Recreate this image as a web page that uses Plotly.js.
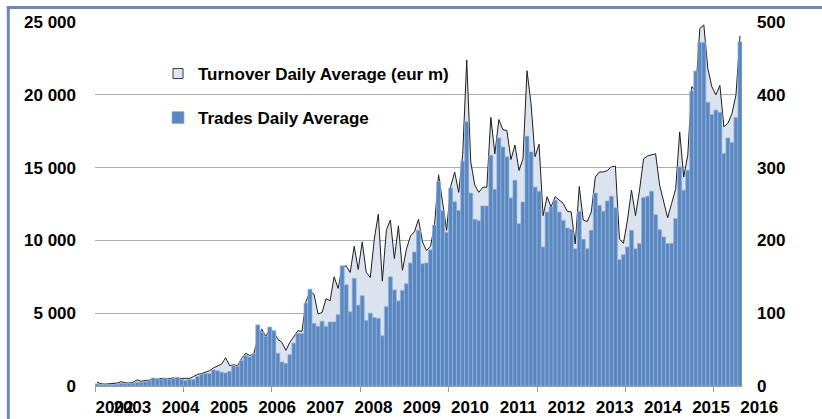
<!DOCTYPE html>
<html>
<head>
<meta charset="utf-8">
<script src="https://cdn.plot.ly/plotly-3.0.1.min.js"></script>
<style>
  html, body { margin: 0; padding: 0; background: #ffffff; }
  #chart { width: 822px; height: 419px; }
</style>
</head>
<body>
<div id="chart"></div>
<script>
// ---- Data ----
// Trades Daily Average (number of trades), one value per month
const trades = [
  150,100,100,120,100,130,180,150,170,200,
  260,250,300,350,550,500,450,550,450,500,
  600,450,400,450,450,650,
  800,850,850,1100,1050,950,900,1000,1400,1350,
  1750,2100,2000,2200,4200,3700,3400,4050,3800,2250,
  1650,1550,2150,2950,3600,
  3600,5700,6650,4300,4100,4450,4100,4400,4400,4900,
  8250,6950,5100,7400,5550,6200,4500,5000,4700,4650,
  3450,5450,7500,6600,5850,
  6570,7030,8450,9200,10700,8400,8450,9350,11050,14050,
  12050,10550,13600,12650,12050,15450,18150,13250,11450,11350,
  12370,12370,15850,13510,17040,16420,15740,12920,14130,11150,
  12640,17160,16080,13670,13380,9550,11950,12300,12760,11950,
  11380,10850,10760,9430,12000,10080,9430,10690,13260,12410,
  12000,12710,13030,12250,8680,9020,9550,10690,9430,9780,
  12940,13030,13380,11770,10740,10240,9780,9800,11500,15050,
  13450,14820,20250,21630,23600,23600,19480,18650,18950,18800,
  15970,17040,16720,18440,23640
];
// Turnover Daily Average (eur m), one value per month
const turnover = [
  5.6,3.0,2.6,3.0,3.4,4.0,6.0,4.4,4.0,5.2,
  8.4,6.4,7.6,8.0,10.0,9.0,10.4,9.6,10.0,11.2,
  9.0,10.4,10.6,10.4,13,16,
  17,19,21,25,28,30,39,28,29,28,
  38,45,42,44,66,78,68,78,74,64,
  60,49,60,68,76,
  75,116,130,126,99,101,120,117,150,134,
  164,165,156,192,160,198,156,149,202,236,
  144,214,228,175,220,
  159,188,206,212,229,198,186,192,222,290,
  252,214,274,294,266,318,448,308,276,266,
  273,273,369,319,366,352,351,311,331,296,
  312,433,388,315,332,234,260,246,260,255,
  251,240,239,195,274,228,226,239,287,294,
  294,296,301,302,202,196,228,269,234,269,
  312,316,317,319,276,253,231,251,271,349,
  287,317,411,406,491,496,436,411,400,413,
  356,361,374,400,481
];
const yearLabels = ['2002','2003','2004','2005','2006','2007','2008','2009',
                    '2010','2011','2012','2013','2014','2015','2016'];
const leftTicks  = [0, 5000, 10000, 15000, 20000, 25000];
const rightTicks = [0, 100, 200, 300, 400, 500];

// ---- Layout geometry ----
const W = 822, H = 419;
const ML = 95, MR = 80, MT = 22, MB = 33;
const plotW = W - ML - MR, plotH = H - MT - MB;
const n = trades.length;
const months = trades.map((_, i) => i);
const unit = plotW / n;               // px per month
const LABEL_SHIFT = 18;               // px shift of year labels
// year labels sit 12 months apart; the first two overlap as in the original
const labelPos = yearLabels.map((y, k) => k === 0 ? 4.35 : 8.8 + 12 * (k - 1));
const labelVals = labelPos.map(p => p - LABEL_SHIFT / unit);
const majorTicks = [];
for (let v = -0.5; v < n; v += 22) majorTicks.push(v);

const FONT = 'Liberation Sans, Arial, Helvetica, sans-serif';
const FS = 17;
const tickFont = { family: FONT, size: FS, color: '#000000', weight: 'bold' };

const px2x = px => (px - ML) / plotW;
const px2y = py => (H - MB - py) / plotH;

const areaTrace = {
  type: 'scatter', mode: 'lines', x: months, y: turnover,
  xaxis: 'x', yaxis: 'y',
  fill: 'tozeroy', fillcolor: '#dbe4ee',
  line: { color: '#1e1e1e', width: 1 },
  showlegend: false, hoverinfo: 'skip'
};
const turnoverLegend = {
  type: 'scatter', mode: 'markers', x: [null], y: [null],
  xaxis: 'x', yaxis: 'y',
  name: 'Turnover Daily Average (eur m)',
  marker: { symbol: 'square', size: 10, color: '#dde6ef', line: { color: '#3a3a3a', width: 1 } },
  legend: 'legend', showlegend: true
};
const barTrace = {
  type: 'bar', x: months, y: trades,
  xaxis: 'x2', yaxis: 'y2',
  name: 'Trades Daily Average',
  marker: { color: '#5b87c1', line: { color: '#94b3db', width: 0.7 } },
  legend: 'legend2', showlegend: true, hoverinfo: 'skip'
};

const legendFont = { family: FONT, size: FS, color: '#000000', weight: 'bold' };

const layout = {
  width: W, height: H,
  margin: { l: ML, r: MR, t: MT, b: MB, pad: 0 },
  paper_bgcolor: '#ffffff', plot_bgcolor: 'rgba(0,0,0,0)',
  separators: '. ',
  barmode: 'overlay', bargap: 0,
  font: { family: FONT, size: FS, color: '#000000' },
  xaxis: {
    range: [-0.5, n - 0.5], tickmode: 'array', tickvals: majorTicks,
    showticklabels: false, ticks: 'outside', ticklen: 5, tickwidth: 1, tickcolor: '#9a9a9a',
    showline: true, linecolor: '#9a9a9a', linewidth: 1,
    showgrid: false, zeroline: false, fixedrange: true
  },
  xaxis2: {
    overlaying: 'x', anchor: 'y', side: 'bottom',
    range: [-0.5, n - 0.5], tickmode: 'array', tickvals: labelVals, ticktext: yearLabels,
    ticklabelshift: LABEL_SHIFT, ticklabelstandoff: 9, tickangle: 0,
    ticks: '', showline: false, showgrid: false, zeroline: false,
    tickfont: tickFont, fixedrange: true
  },
  yaxis: {
    side: 'right', anchor: 'x', range: [0, 500],
    tickmode: 'array', tickvals: rightTicks,
    showgrid: true, gridcolor: '#ababab', gridwidth: 1,
    zeroline: false, showline: false, ticks: '',
    ticklabelstandoff: 14, tickfont: tickFont, fixedrange: true
  },
  yaxis2: {
    side: 'left', overlaying: 'y', anchor: 'x2', range: [0, 25000],
    tickmode: 'array', tickvals: leftTicks, tickformat: ',d',
    showgrid: false, zeroline: false, showline: false, ticks: '',
    ticklabelstandoff: 18, tickfont: tickFont, fixedrange: true
  },
  legend: {
    x: px2x(158), y: px2y(74), xanchor: 'left', yanchor: 'middle',
    bgcolor: 'rgba(0,0,0,0)', borderwidth: 0, font: legendFont
  },
  legend2: {
    x: px2x(158), y: px2y(118), xanchor: 'left', yanchor: 'middle',
    bgcolor: 'rgba(0,0,0,0)', borderwidth: 0, font: legendFont
  },
  shapes: [
    { type: 'line', xref: 'paper', yref: 'paper',
      x0: px2x(6.8), x1: px2x(W + 10), y0: px2y(7.5), y1: px2y(7.5),
      line: { color: '#6b8bb4', width: 3 } },
    { type: 'line', xref: 'paper', yref: 'paper',
      x0: px2x(8.3), x1: px2x(8.3), y0: px2y(6), y1: px2y(H + 10),
      line: { color: '#6b8bb4', width: 3 } }
  ]
};

Plotly.newPlot('chart', [areaTrace, turnoverLegend, barTrace], layout,
  { staticPlot: true, displayModeBar: false });
</script>
</body>
</html>
